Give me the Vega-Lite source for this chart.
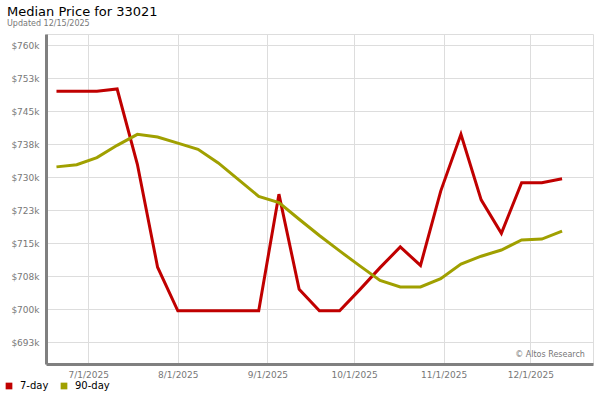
{
  "$schema": "https://vega.github.io/schema/vega-lite/v6.json",
  "width": 547,
  "height": 330,
  "autosize": {"type": "none"},
  "padding": {"left": 46, "top": 34, "right": 7, "bottom": 36},
  "background": "white",
  "config": {
    "font": "DejaVu Sans",
    "view": {"stroke": "#dddddd", "strokeWidth": 1}
  },
  "title": {
    "text": "Median Price for 33021",
    "subtitle": "Updated 12/15/2025",
    "anchor": "start",
    "frame": "group",
    "dx": -39,
    "fontSize": 13,
    "fontWeight": "normal",
    "color": "#000000",
    "subtitleFontSize": 8,
    "subtitleColor": "#777777",
    "subtitlePadding": 1,
    "offset": 6
  },
  "datasets": {
    "prices": [
      {"date": "2025-06-20T00:00:00", "series": "7-day", "price": 749500},
      {"date": "2025-06-27T00:00:00", "series": "7-day", "price": 749500},
      {"date": "2025-07-04T00:00:00", "series": "7-day", "price": 749500},
      {"date": "2025-07-11T00:00:00", "series": "7-day", "price": 750000},
      {"date": "2025-07-18T00:00:00", "series": "7-day", "price": 732900},
      {"date": "2025-07-25T00:00:00", "series": "7-day", "price": 709500},
      {"date": "2025-08-01T00:00:00", "series": "7-day", "price": 699600},
      {"date": "2025-08-08T00:00:00", "series": "7-day", "price": 699600},
      {"date": "2025-08-15T00:00:00", "series": "7-day", "price": 699600},
      {"date": "2025-08-22T00:00:00", "series": "7-day", "price": 699600},
      {"date": "2025-08-29T00:00:00", "series": "7-day", "price": 699600},
      {"date": "2025-09-05T00:00:00", "series": "7-day", "price": 726100},
      {"date": "2025-09-12T00:00:00", "series": "7-day", "price": 704500},
      {"date": "2025-09-19T00:00:00", "series": "7-day", "price": 699600},
      {"date": "2025-09-26T00:00:00", "series": "7-day", "price": 699600},
      {"date": "2025-10-03T00:00:00", "series": "7-day", "price": 704400},
      {"date": "2025-10-10T00:00:00", "series": "7-day", "price": 709400},
      {"date": "2025-10-17T00:00:00", "series": "7-day", "price": 714100},
      {"date": "2025-10-24T00:00:00", "series": "7-day", "price": 709900},
      {"date": "2025-10-31T00:00:00", "series": "7-day", "price": 726800},
      {"date": "2025-11-07T00:00:00", "series": "7-day", "price": 739700},
      {"date": "2025-11-14T00:00:00", "series": "7-day", "price": 724800},
      {"date": "2025-11-21T00:00:00", "series": "7-day", "price": 717200},
      {"date": "2025-11-28T00:00:00", "series": "7-day", "price": 728700},
      {"date": "2025-12-05T00:00:00", "series": "7-day", "price": 728700},
      {"date": "2025-12-12T00:00:00", "series": "7-day", "price": 729600},
      {"date": "2025-06-20T00:00:00", "series": "90-day", "price": 732300},
      {"date": "2025-06-27T00:00:00", "series": "90-day", "price": 732800},
      {"date": "2025-07-04T00:00:00", "series": "90-day", "price": 734400},
      {"date": "2025-07-11T00:00:00", "series": "90-day", "price": 737200},
      {"date": "2025-07-18T00:00:00", "series": "90-day", "price": 739700},
      {"date": "2025-07-25T00:00:00", "series": "90-day", "price": 739100},
      {"date": "2025-08-01T00:00:00", "series": "90-day", "price": 737700},
      {"date": "2025-08-08T00:00:00", "series": "90-day", "price": 736300},
      {"date": "2025-08-15T00:00:00", "series": "90-day", "price": 733200},
      {"date": "2025-08-22T00:00:00", "series": "90-day", "price": 729400},
      {"date": "2025-08-29T00:00:00", "series": "90-day", "price": 725600},
      {"date": "2025-09-05T00:00:00", "series": "90-day", "price": 724200},
      {"date": "2025-09-12T00:00:00", "series": "90-day", "price": 720400},
      {"date": "2025-09-19T00:00:00", "series": "90-day", "price": 716700},
      {"date": "2025-09-26T00:00:00", "series": "90-day", "price": 713200},
      {"date": "2025-10-03T00:00:00", "series": "90-day", "price": 709800},
      {"date": "2025-10-10T00:00:00", "series": "90-day", "price": 706500},
      {"date": "2025-10-17T00:00:00", "series": "90-day", "price": 705000},
      {"date": "2025-10-24T00:00:00", "series": "90-day", "price": 705000},
      {"date": "2025-10-31T00:00:00", "series": "90-day", "price": 706900},
      {"date": "2025-11-07T00:00:00", "series": "90-day", "price": 710200},
      {"date": "2025-11-14T00:00:00", "series": "90-day", "price": 712000},
      {"date": "2025-11-21T00:00:00", "series": "90-day", "price": 713400},
      {"date": "2025-11-28T00:00:00", "series": "90-day", "price": 715700},
      {"date": "2025-12-05T00:00:00", "series": "90-day", "price": 715900},
      {"date": "2025-12-12T00:00:00", "series": "90-day", "price": 717700}
    ],
    "credit": [
      {"date": "2025-12-19T22:00:00", "price": 689000, "label": "© Altos Research"}
    ]
  },
  "layer": [
    {
      "data": {"name": "prices"},
      "mark": {"type": "line", "strokeWidth": 3, "strokeJoin": "miter", "strokeCap": "butt"},
      "encoding": {
        "x": {
          "field": "date",
          "type": "temporal",
          "scale": {
            "domain": [
              {"year": 2025, "month": 6, "date": 16, "hours": 9},
              {"year": 2025, "month": 12, "date": 22, "hours": 17}
            ]
          },
          "axis": {
            "title": null,
            "values": [
              {"year": 2025, "month": 7, "date": 1},
              {"year": 2025, "month": 8, "date": 1},
              {"year": 2025, "month": 9, "date": 1},
              {"year": 2025, "month": 10, "date": 1},
              {"year": 2025, "month": 11, "date": 1},
              {"year": 2025, "month": 12, "date": 1}
            ],
            "tickCount": 20,
            "format": "%-m/%-d/%Y",
            "labelFontSize": 9,
            "labelColor": "#777777",
            "labelPadding": 6,
            "labelOverlap": false,
            "ticks": false,
            "domainColor": "#808080",
            "domainWidth": 3,
            "grid": true,
            "gridColor": "#dddddd",
            "gridWidth": 1
          }
        },
        "y": {
          "field": "price",
          "type": "quantitative",
          "scale": {"domain": [687500, 762500], "zero": false, "nice": false},
          "axis": {
            "title": null,
            "values": [692500, 700000, 707500, 715000, 722500, 730000, 737500, 745000, 752500, 760000],
            "tickCount": 20,
            "labelExpr": "'$' + format(datum.value / 1000, '.0f') + 'k'",
            "labelFontSize": 9,
            "labelColor": "#777777",
            "labelPadding": 7,
            "labelOverlap": false,
            "ticks": false,
            "domainColor": "#808080",
            "domainWidth": 3,
            "grid": true,
            "gridColor": "#dddddd",
            "gridWidth": 1
          }
        },
        "color": {
          "field": "series",
          "type": "nominal",
          "scale": {"domain": ["7-day", "90-day"], "range": ["#c00000", "#a0a000"]},
          "legend": {
            "title": null,
            "orient": "none",
            "legendX": -42,
            "legendY": 347,
            "direction": "horizontal",
            "symbolType": "square",
            "symbolSize": 45,
            "labelFontSize": 10,
            "labelColor": "#000000",
            "columnPadding": 10,
            "labelOffset": 6,
            "encode": {
              "symbols": {
                "update": {
                  "fill": {"scale": "color", "field": "value"},
                  "fillOpacity": {"value": 1},
                  "strokeWidth": {"value": 0}
                }
              }
            }
          }
        }
      }
    },
    {
      "data": {"name": "credit"},
      "mark": {"type": "text", "align": "right", "baseline": "alphabetic", "fontSize": 8, "color": "#777777"},
      "encoding": {
        "x": {"field": "date", "type": "temporal"},
        "y": {"field": "price", "type": "quantitative"},
        "text": {"field": "label"}
      }
    }
  ]
}
